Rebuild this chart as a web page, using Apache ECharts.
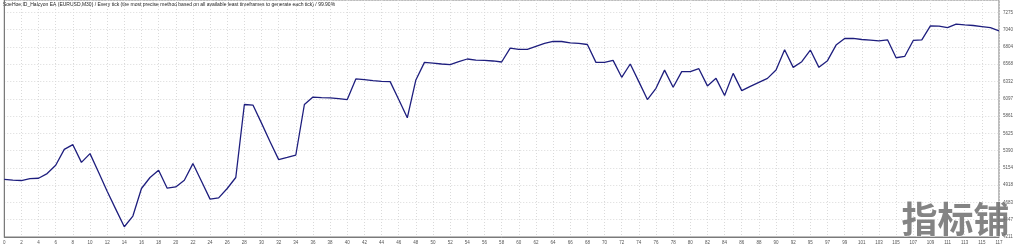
<!DOCTYPE html>
<html>
<head>
<meta charset="utf-8">
<script src="https://cdn.jsdelivr.net/npm/echarts@6/dist/echarts.min.js"></script>
<style>
html,body{margin:0;padding:0;background:#fff;}
#c{width:1024px;height:246px;}
</style>
</head>
<body>
<div id="c"></div>
<script>
var titleText = 'SoeHoe.ID_Halcyon EA (EURUSD,M30) / Every tick (the most precise method based on all available least timeframes to generate each tick) / 99.90%';
var balance = [
4999,4986,4982,5009,5013,5077,5190,5407,5471,5230,
5349,5095,4836,4592,4351,4497,4873,5023,5122,4877,
4895,4986,5213,4972,4728,4745,4873,5023,6019,6012,
5765,5512,5267,5298,5330,6019,6121,6114,6110,6100,
6087,6368,6359,6345,6335,6331,6087,5838,6354,6594,
6585,6572,6562,6603,6640,6626,6621,6613,6599,6789,
6770,6770,6811,6852,6879,6879,6861,6852,6838,6594,
6594,6621,6390,6572,6331,6087,6240,6488,6254,6467,
6467,6508,6273,6376,6141,6444,6209,6267,6322,6376,
6490,6766,6526,6603,6762,6526,6617,6830,6920,6920,
6906,6898,6888,6902,6657,6675,6893,6902,7092,7088,
7069,7116,7106,7097,7083,7069,7025
];
var xTicks = [0,2,4,6,8,10,12,14,16,18,20,22,24,26,28,30,32,34,36,38,
40,42,44,46,48,50,52,54,56,58,60,62,64,66,68,70,72,74,76,78,80,
82,84,86,88,90,92,95,97,99,101,103,105,107,109,111,113,115,117];
var yTicks = [4211,4447,4683,4918,5154,5390,5625,5861,6097,6332,6568,6804,7040,7275];
var yMin = 4211.36, yStep = 235.68, yMax = 7445;
var xStep = 2;

var data = balance.map(function(v,i){return [i,v];});
var chart = echarts.init(document.getElementById('c'), null, {renderer:'canvas'});
var labelFont = {fontFamily:'Liberation Sans', fontSize:4.5, color:'#555'};
chart.setOption({
  animation:false,
  grid:{left:3,right:25,top:-1,bottom:9,show:true,borderColor:'#7a7a7a',borderWidth:1,backgroundColor:'#fff'},
  xAxis:{type:'value',min:0,max:balance.length-1,interval:xStep,
    axisLine:{show:true,lineStyle:{color:'#7a7a7a',width:1}},
    axisTick:{show:false},
    splitLine:{show:true,lineStyle:{color:'#dadada',type:[1,2],width:1}},
    axisLabel:Object.assign({margin:3,formatter:function(v){var k=Math.round(v/xStep);return xTicks[k]===undefined?'':String(xTicks[k]);}},labelFont)
  },
  yAxis:{type:'value',position:'right',min:yMin,max:yMax,interval:yStep,
    axisLine:{show:true,lineStyle:{color:'#7a7a7a',width:1}},
    axisTick:{show:false},
    splitLine:{show:true,lineStyle:{color:'#dadada',type:[1,2],width:1}},
    axisLabel:Object.assign({margin:4,formatter:function(v){var k=Math.round((v-yMin)/yStep);return yTicks[k]===undefined?'':String(yTicks[k]);}},labelFont)
  },
  graphic:[
    {type:'text',left:3,top:2,style:{text:titleText,fontFamily:'Liberation Sans',fontSize:5,fill:'#222'}},
    {type:'text',left:901,top:201,z:100,style:{text:'指标铺',fontFamily:'Noto Sans CJK SC',fontWeight:'bold',fontSize:36,fill:'rgba(110,110,110,0.85)',stroke:'rgba(255,255,255,0.6)',lineWidth:1}}
  ],
  series:[{type:'line',data:data,symbol:'none',lineStyle:{color:'#1e1e7e',width:1.3},z:5}]
});
</script>
</body>
</html>
